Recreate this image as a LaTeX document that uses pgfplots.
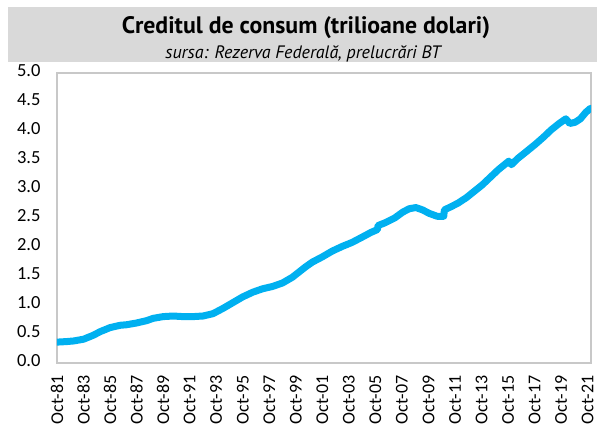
\documentclass[border=0pt]{standalone}
\usepackage{pgfplots}
\pgfplotsset{compat=1.18}
\usepackage{fontspec}
\setmainfont{Carlito}
\newfontfamily\titlefont{PT Sans}
\definecolor{linecol}{HTML}{00B0F0}
\definecolor{band}{HTML}{D9D9D9}
\definecolor{framecol}{HTML}{C8C8C8}
\begin{document}
\begin{tikzpicture}
\useasboundingbox (0,0) rectangle (597bp,-428bp);
\fill[band] (8bp,-7bp) rectangle (597bp,-62bp);
\node[font=\titlefont\bfseries\fontsize{23.8bp}{26bp}\selectfont, anchor=base] at (306bp,-33bp) {Creditul de consum (trilioane dolari)};
\node[font=\titlefont\itshape\fontsize{18bp}{20bp}\selectfont, anchor=base] at (303bp,-58bp) {sursa: Rezerva Federală, prelucrări BT};
\begin{axis}[
  at={(57bp,-363bp)}, anchor=south west,
  scale only axis, width=534bp, height=290bp,
  xmin=1981.75, xmax=2022.0, ymin=0, ymax=5,
  axis line style={framecol, line width=1.3bp},
  major tick length=0pt,
  xtick={1981.75,1983.75,1985.75,1987.75,1989.75,1991.75,1993.75,1995.75,1997.75,1999.75,2001.75,2003.75,2005.75,2007.75,2009.75,2011.75,2013.75,2015.75,2017.75,2019.75,2021.75},
  xticklabels={Oct-81,Oct-83,Oct-85,Oct-87,Oct-89,Oct-91,Oct-93,Oct-95,Oct-97,Oct-99,Oct-01,Oct-03,Oct-05,Oct-07,Oct-09,Oct-11,Oct-13,Oct-15,Oct-17,Oct-19,Oct-21},
  xticklabel style={rotate=90, anchor=east, font=\fontsize{18bp}{20bp}\selectfont, xshift=-9bp},
  ytick={0,0.5,1,1.5,2,2.5,3,3.5,4,4.5,5},
  yticklabel style={font=\fontsize{18.5bp}{20bp}\selectfont, xshift=-13bp, yshift=2bp,
    /pgf/number format/.cd, fixed, fixed zerofill, precision=1, assume math mode=true},
  scaled y ticks=false,
]
\addplot[linecol, line width=7bp, line join=round, line cap=round] coordinates {
(1981.75,0.36) (1982.5,0.37) (1983.0,0.38) (1983.75,0.41) (1984.5,0.48) (1985.0,0.54)
(1985.75,0.61) (1986.5,0.65) (1987.0,0.66) (1987.75,0.69) (1988.5,0.73) (1989.0,0.77)
(1989.75,0.80) (1990.5,0.81) (1991.25,0.80) (1992.0,0.80) (1992.75,0.81) (1993.5,0.85)
(1994.25,0.94) (1995.0,1.04) (1995.75,1.14) (1996.5,1.22) (1997.25,1.28) (1998.0,1.32)
(1998.75,1.38) (1999.5,1.48) (2000.0,1.57) (2000.5,1.66) (2001.0,1.74) (2001.75,1.83)
(2002.5,1.93) (2003.25,2.01) (2004.0,2.08) (2004.75,2.17) (2005.4,2.25) (2005.9,2.30)
(2005.95,2.37) (2006.5,2.42) (2007.2,2.50) (2007.8,2.60) (2008.3,2.66) (2008.8,2.68)
(2009.3,2.64) (2009.8,2.58) (2010.4,2.53) (2010.9,2.53) (2010.95,2.64) (2011.5,2.70)
(2012.0,2.76) (2012.6,2.85) (2013.2,2.96) (2013.8,3.07) (2014.4,3.20) (2015.0,3.33)
(2015.8,3.48) (2016.0,3.42) (2016.5,3.53) (2017.1,3.64) (2017.8,3.77) (2018.4,3.89)
(2019.0,4.02) (2019.6,4.13) (2020.1,4.21) (2020.4,4.13) (2020.8,4.15) (2021.2,4.21)
(2021.6,4.32) (2021.95,4.39)
};
\end{axis}
\end{tikzpicture}
\end{document}
